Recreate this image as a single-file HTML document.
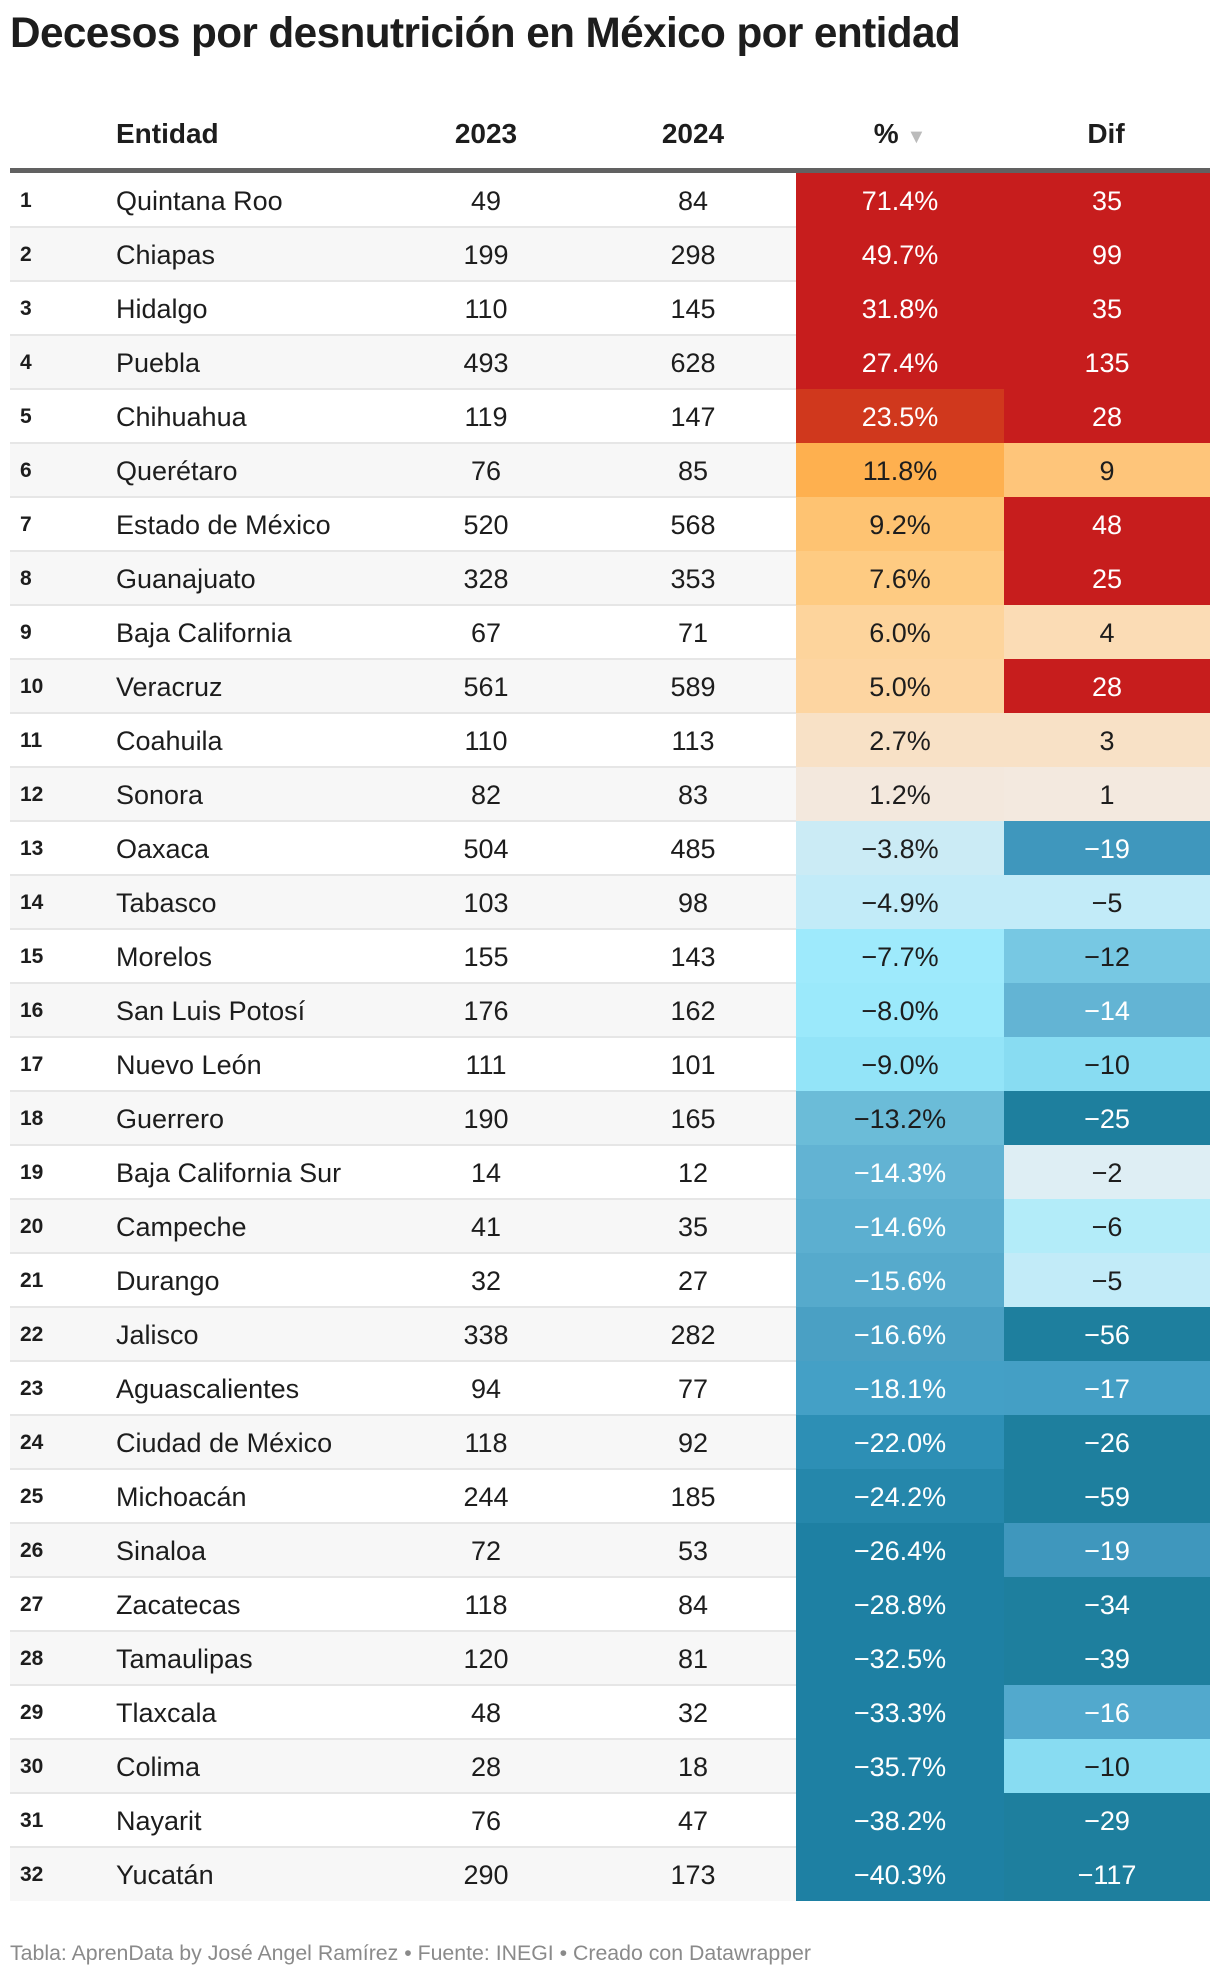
<!DOCTYPE html>
<html><head><meta charset="utf-8">
<style>
html,body{margin:0;padding:0;background:#fff;}
body{width:1220px;height:1976px;position:relative;font-family:"Liberation Sans",sans-serif;color:#1d1d1d;overflow:hidden;}
#title{position:absolute;left:10px;top:9px;font-size:42.3px;font-weight:bold;letter-spacing:-0.6px;white-space:nowrap;}
.hdr{position:absolute;top:118px;font-size:28px;font-weight:bold;}
#thick{position:absolute;left:10px;top:168px;width:1200px;height:5px;background:#616161;}
.row{position:absolute;left:10px;width:1200px;height:54px;}
.cell{position:absolute;top:0;height:54px;line-height:56px;font-size:27px;white-space:nowrap;}
.rank{font-size:21px;font-weight:bold;}
.sep{position:absolute;left:10px;width:1200px;height:2px;background:#e6e6e6;}
#foot{position:absolute;left:10px;top:1941px;font-size:21.3px;color:#8a8a8a;white-space:nowrap;}
</style></head><body>
<div id="title">Decesos por desnutrición en México por entidad</div>
<div class="hdr" style="left:116px">Entidad</div>
<div class="hdr" style="left:436px;width:100px;text-align:center">2023</div>
<div class="hdr" style="left:643px;width:100px;text-align:center">2024</div>
<div class="hdr" style="left:850px;width:100px;text-align:center">% <span style="color:#bbb;font-size:20px">▼</span></div>
<div class="hdr" style="left:1056px;width:100px;text-align:center">Dif</div>
<div id="thick"></div>
<div id="rows"></div>
<div id="foot">Tabla: AprenData by José Angel Ramírez • Fuente: INEGI • Creado con Datawrapper</div>
<script>
const states = ["Quintana Roo","Chiapas","Hidalgo","Puebla","Chihuahua","Querétaro","Estado de México","Guanajuato","Baja California","Veracruz","Coahuila","Sonora","Oaxaca","Tabasco","Morelos","San Luis Potosí","Nuevo León","Guerrero","Baja California Sur","Campeche","Durango","Jalisco","Aguascalientes","Ciudad de México","Michoacán","Sinaloa","Zacatecas","Tamaulipas","Tlaxcala","Colima","Nayarit","Yucatán"];
const v2023 = [49,199,110,493,119,76,520,328,67,561,110,82,504,103,155,176,111,190,14,41,32,338,94,118,244,72,118,120,48,28,76,290];
const v2024 = [84,298,145,628,147,85,568,353,71,589,113,83,485,98,143,162,101,165,12,35,27,282,77,92,185,53,84,81,32,18,47,173];
const pct = [71.4,49.7,31.8,27.4,23.5,11.8,9.2,7.6,6.0,5.0,2.7,1.2,-3.8,-4.9,-7.7,-8.0,-9.0,-13.2,-14.3,-14.6,-15.6,-16.6,-18.1,-22.0,-24.2,-26.4,-28.8,-32.5,-33.3,-35.7,-38.2,-40.3];
const dif = [35,99,35,135,28,9,48,25,4,28,3,1,-19,-5,-12,-14,-10,-25,-2,-6,-5,-56,-17,-26,-59,-19,-34,-39,-16,-10,-29,-117];

const pctStops = [[-26,"#1e80a3"],[-22,"#2d8fb5"],[-18.1,"#44a0c6"],[-16.6,"#4aa0c4"],[-15.6,"#56aacc"],[-14.6,"#5cafd0"],[-14.3,"#62b3d3"],[-13.2,"#6bbcd8"],[-9,"#93e4f8"],[-7.7,"#9eeafc"],[-4.9,"#c2ebf8"],[-3.8,"#cbebf5"],[0,"#efe8e2"],[1.2,"#f3e8dd"],[2.7,"#f8e1c6"],[5,"#fdd5a1"],[6,"#fdd49c"],[7.6,"#fecb82"],[9.2,"#fec372"],[11.8,"#feb04f"],[23.5,"#d0381d"],[27.4,"#c71d1d"]];
const difStops = [[-25,"#1e7f9e"],[-19,"#3f97bd"],[-17,"#449fc5"],[-16,"#52a9cd"],[-14,"#63b4d4"],[-12,"#77c8e3"],[-10,"#88dcf2"],[-6,"#b3ecf9"],[-5,"#c2ebf8"],[-2,"#deeef4"],[0,"#f0ebe6"],[1,"#f3e9df"],[3,"#f8e1c6"],[4,"#fbdcb5"],[9,"#fec57a"],[25,"#c71d1d"]];

function hex2rgb(h){return [1,3,5].map(i=>parseInt(h.substr(i,2),16));}
function scale(stops,v){
  if(v<=stops[0][0]) return hex2rgb(stops[0][1]);
  const last=stops[stops.length-1];
  if(v>=last[0]) return hex2rgb(last[1]);
  for(let i=0;i<stops.length-1;i++){
    const a=stops[i],b=stops[i+1];
    if(v>=a[0]&&v<=b[0]){const t=(v-a[0])/(b[0]-a[0]);const ca=hex2rgb(a[1]),cb=hex2rgb(b[1]);return ca.map((c,k)=>Math.round(c+(cb[k]-c)*t));}
  }
}
function lum(c){const l=c.map(x=>{x/=255;return x<=0.03928?x/12.92:Math.pow((x+0.055)/1.055,2.4);});return 0.2126*l[0]+0.7152*l[1]+0.0722*l[2];}
function fmt(v,d){const s=Math.abs(v).toFixed(d);return (v<0?"−":"")+s;}

const body=document.getElementById('rows');
const top0=173,rh=54;
states.forEach((s,i)=>{
  const y=top0+i*rh;
  const row=document.createElement('div');
  row.className='row';
  
  
  row.style.top=y+'px';
  row.style.background=i%2?'#f7f7f7':'#ffffff';
  const mk=(cls,left,width,align,text)=>{
    const c=document.createElement('div');
    c.className='cell '+cls;
    c.style.left=left+'px';c.style.width=width+'px';c.style.textAlign=align;
    c.textContent=text;
    return c;
  };
  const r=mk('rank',10,60,'left',String(i+1));
  
  
  row.appendChild(r);
  const n=mk('',106,320,'left',s);
  
  
  row.appendChild(n);
  const a=mk('',426,100,'center',String(v2023[i]));
  
  
  row.appendChild(a);
  const b=mk('',633,100,'center',String(v2024[i]));
  
  
  row.appendChild(b);
  const pc=scale(pctStops,pct[i]);
  const p=mk('',786,208,'center',fmt(pct[i],1)+'%');
  
  
  p.style.background='rgb('+pc.join(',')+')';
  p.style.color=lum(pc)<0.405?'#fff':'#1d1d1d';
  row.appendChild(p);
  const dc=scale(difStops,dif[i]);
  const d=mk('',994,206,'center',fmt(dif[i],0));
  
  
  d.style.background='rgb('+dc.join(',')+')';
  d.style.color=lum(dc)<0.405?'#fff':'#1d1d1d';
  row.appendChild(d);
  body.appendChild(row);
  if(i>0){
    const sp=document.createElement('div');
    sp.className='sep';
    
    
    sp.style.top=(y-1)+'px';
    sp.style.width='786px';
    body.appendChild(sp);
  }
});
</script>
</body></html>
